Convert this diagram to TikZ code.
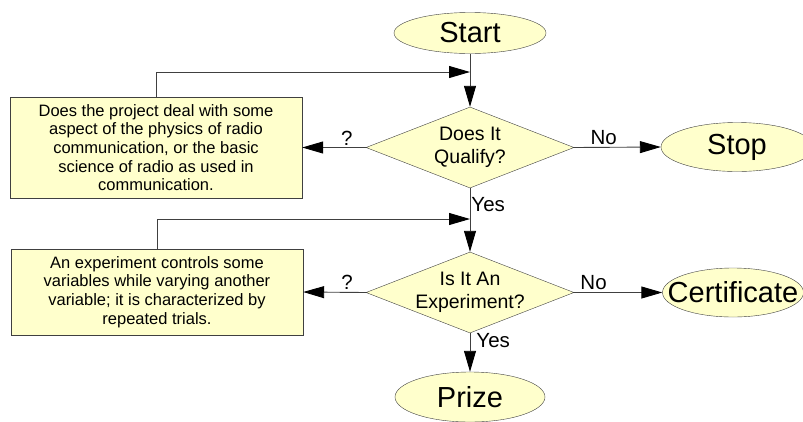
\documentclass[tikz,border=0pt]{standalone}
\usepackage{xcolor}
\usepackage{fontspec}
\setmainfont{Liberation Sans}
\usepackage{tikz}
\usetikzlibrary{arrows.meta}
\usetikzlibrary{shapes}
\usetikzlibrary{shapes.geometric}
\usetikzlibrary{positioning}
\definecolor{pale}{HTML}{FFFFCC}
\definecolor{edge}{HTML}{404040}
\tikzset{>={Triangle[length=21pt,width=12pt,color=black]}}
\tikzstyle{term} = [ellipse, draw=edge, fill=pale, inner xsep=-20pt, inner ysep=0pt, font=\fontsize{29}{32}\selectfont]
\tikzstyle{decide} = [diamond, draw=edge, fill=pale, aspect=2.57, inner xsep=-12pt, inner ysep=0pt, minimum width=208pt, minimum height=81pt, align=center, font=\fontsize{19.5}{23.5}\selectfont]
\tikzstyle{note} = [rectangle, draw=edge, fill=pale, minimum width=292pt, align=center, font=\fontsize{16.5}{18.7}\selectfont]
\tikzstyle{lbl} = [font=\fontsize{20.5}{22}\selectfont, inner sep=2pt]
\tikzstyle{flow} = [->, draw=edge, line width=0.9pt]

\begin{document}
\begin{tikzpicture}[x=1pt, y=-1pt]
 \useasboundingbox (0, 0) rectangle (803, 421);
 \node [term, minimum width=152pt, minimum height=41pt] (start) at (470, 33) {Start};
 \node [decide] (q1) at (470, 147.5) {Does It\\Qualify?};
 \node [term, minimum width=152pt, minimum height=49pt] (stop) at (737, 147) {Stop};
 \node [note, minimum height=101pt] (box1) at (156, 147.5) {Does the project deal with some\\aspect of the physics of radio\\communication, or the basic\\science of radio as used in\\communication.};
 \node [decide] (q2) at (470, 292.5) {Is It An\\Experiment?};
 \node [term, minimum width=141pt, minimum height=49pt] (cert) at (733, 292.5) {Certificate};
 \node [note, minimum height=86pt] (box2) at (157, 292) {An experiment controls some\\variables while varying another\\variable; it is characterized by\\repeated trials.};
 \node [term, minimum width=150pt, minimum height=50pt] (prize) at (470, 397) {Prize};
 \coordinate (m1) at (470, 72);
 \coordinate (m2) at (470, 219);
 \draw [flow] (start) to (q1);
 \draw [flow] (box1.north) |- (m1);
 \draw [flow] (q1.west) to node [lbl, above, pos=0.3] {?} (box1.east);
 \draw [flow] (q1.east) to node [lbl, above, pos=0.34] {No} (stop.west);
 \draw [flow] (q1.south) to node [lbl, right, pos=0.25, inner xsep=1pt] {Yes} (q2.north);
 \draw [flow] (box2.north) |- (m2);
 \draw [flow] (q2.west) to node [lbl, above, pos=0.3] {?} (box2.east);
 \draw [flow] (q2.east) to node [lbl, above, pos=0.22] {No} (cert.west);
 \draw [flow] (q2.south) to node [lbl, right, pos=0.18, inner xsep=6pt] {Yes} (prize.north);
\end{tikzpicture}
\end{document}
